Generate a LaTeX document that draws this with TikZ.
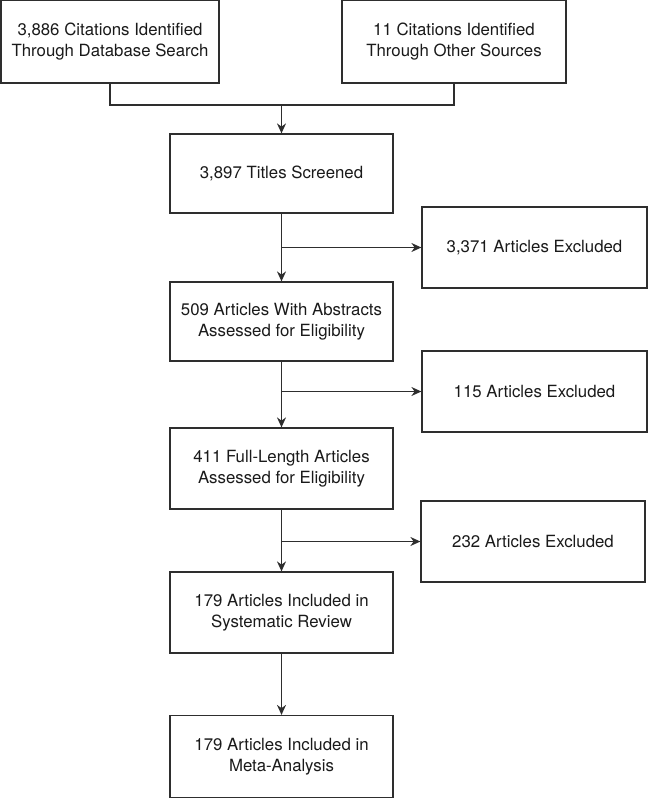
\documentclass[tikz,border=0pt]{standalone}
\usepackage{fontspec}
\setmainfont{TeX Gyre Heros}
\usetikzlibrary{arrows.meta}
\definecolor{ink}{HTML}{2E2E2E}
\definecolor{txt}{HTML}{1A1A1A}
\begin{document}
\begin{tikzpicture}[x=1pt,y=-1pt,
  box/.style={draw=ink,line width=1.2pt,fill=white,inner sep=0pt,align=center,
    font=\fontsize{16.8}{20.5}\selectfont,text=txt},
  link/.style={draw=ink,line width=1.3pt},
  arr/.style={link,-{Stealth[length=10pt,width=9pt]}}]
\useasboundingbox (0,0) rectangle (648,798);
\node[box,minimum width=218pt,minimum height=82.5pt] (A) at (110,41.7) {3,886 Citations Identified\\Through Database Search};
\node[box,minimum width=224pt,minimum height=82.5pt] (B) at (454,41.7) {11 Citations Identified\\Through Other Sources};
\node[box,minimum width=223pt,minimum height=79pt] (T) at (281.5,173.5) {3,897 Titles Screened};
\node[box,minimum width=225pt,minimum height=81pt] (E1) at (534.5,247.5) {3,371 Articles Excluded};
\node[box,minimum width=223pt,minimum height=79pt] (C2) at (281.5,321.5) {509 Articles With Abstracts\\Assessed for Eligibility};
\node[box,minimum width=225pt,minimum height=81pt] (E2) at (534.5,391.5) {115 Articles Excluded};
\node[box,minimum width=223pt,minimum height=81pt] (C3) at (281.5,468.5) {411 Full-Length Articles\\Assessed for Eligibility};
\node[box,minimum width=224pt,minimum height=81pt] (E3) at (533,541.5) {232 Articles Excluded};
\node[box,minimum width=223pt,minimum height=81pt] (C4) at (281.5,612.5) {179 Articles Included in\\Systematic Review};
\node[box,minimum width=223pt,minimum height=82pt] (C5) at (281.5,756.5) {179 Articles Included in\\Meta-Analysis};
\coordinate (m) at (281.5,105);
\draw[link] (A.south) |- (m) -| (B.south);
\draw[arr] (m) -- (T.north);
\draw[arr] (T.south) -- (C2.north);
\draw[arr] (T.south |- E1.west) -- (E1.west);
\draw[arr] (C2.south) -- (C3.north);
\draw[arr] (C2.south |- E2.west) -- (E2.west);
\draw[arr] (C3.south) -- (C4.north);
\draw[arr] (C3.south |- E3.west) -- (E3.west);
\draw[arr] (C4.south) -- (C5.north);
\end{tikzpicture}
\end{document}
